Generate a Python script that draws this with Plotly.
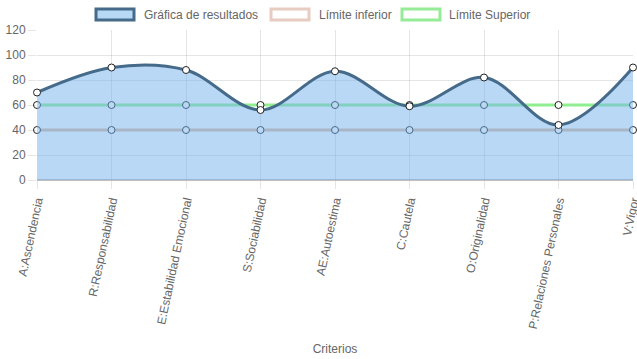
import plotly.graph_objects as go

categories = ["A:Ascendencia", "R:Responsabilidad", "E:Estabilidad Emocional",
              "S:Sociabilidad", "AE:Autoestima", "C:Cautela", "O:Originalidad",
              "P:Relaciones Personales", "V:Vigor"]
resultados = [70, 90, 88, 56, 87, 59, 82, 44, 90]
limite_inferior = [40, 40, 40, 40, 40, 40, 40, 40, 40]
limite_superior = [60, 60, 60, 60, 60, 60, 60, 60, 60]
legend_labels = ["Gráfica de resultados", "Límite inferior", "Límite Superior"]
y_ticks = [0, 20, 40, 60, 80, 100, 120]

W, H = 637, 359
ML, MR, MT, MB = 37, 4, 30, 179
FONT = "Liberation Sans, Arial, Helvetica, sans-serif"
GRAY = "#666666"

RES_LINE = "#456a8a"
RES_FILL = "rgba(116,178,238,0.5)"
INF_COL = "rgb(220,186,160)"
SUP_COL = "rgb(144,238,144)"

fig = go.Figure()

marker_style = dict(size=7, color="white", line=dict(color="#222222", width=1))

fig.add_trace(go.Scatter(x=categories, y=limite_inferior, mode="lines+markers",
                         line=dict(color=INF_COL, width=3), marker=marker_style,
                         cliponaxis=False, showlegend=False, hoverinfo="skip"))
fig.add_trace(go.Scatter(x=categories, y=limite_superior, mode="lines+markers",
                         line=dict(color=SUP_COL, width=3), marker=marker_style,
                         cliponaxis=False, showlegend=False, hoverinfo="skip"))
fig.add_trace(go.Scatter(x=categories, y=resultados, mode="lines+markers",
                         line=dict(color=RES_LINE, width=3, shape="spline", smoothing=1.0),
                         fill="tozeroy", fillcolor=RES_FILL, marker=marker_style,
                         cliponaxis=False, showlegend=False, hoverinfo="skip"))

plot_w = W - ML - MR
plot_h = H - MT - MB


def px_x(px):
    return (px - ML) / plot_w


def px_y(py):
    return (H - MB - py) / plot_h


legend_items = [
    (95, 142, "rgb(184,217,246)", RES_LINE),
    (270, 317, "rgba(255,255,255,1)", "rgb(232,204,194)"),
    (401, 447, "rgba(255,255,255,1)", "rgb(150,235,150)"),
]
shapes = []
annotations = []
for (bx, tx, fillc, linec), label in zip(legend_items, legend_labels):
    shapes.append(dict(type="rect", xref="paper", yref="paper",
                       x0=px_x(bx + 1), x1=px_x(bx + 39), y0=px_y(20), y1=px_y(9),
                       fillcolor=fillc, line=dict(color=linec, width=3), layer="above"))
    annotations.append(dict(xref="paper", yref="paper", x=px_x(tx), y=px_y(15),
                            xanchor="left", yanchor="middle", text=label, showarrow=False,
                            font=dict(family=FONT, size=12, color=GRAY)))

fig.update_layout(
    width=W, height=H,
    margin=dict(l=ML, r=MR, t=MT, b=MB, autoexpand=False),
    paper_bgcolor="white", plot_bgcolor="white",
    font=dict(family=FONT, size=12, color=GRAY),
    shapes=shapes, annotations=annotations,
    showlegend=False,
    xaxis=dict(
        type="category", range=[0, len(categories) - 1],
        showgrid=True, gridcolor="rgba(0,0,0,0.1)", gridwidth=1,
        ticks="outside", ticklen=8, tickcolor="rgba(0,0,0,0.1)",
        tickangle=-78, tickfont=dict(family=FONT, size=12, color=GRAY),
        title=dict(text="Criterios", font=dict(family=FONT, size=12, color=GRAY)),
        automargin=False, zeroline=False, showline=False,
    ),
    yaxis=dict(
        range=[0, 120], tickvals=y_ticks,
        showgrid=True, gridcolor="rgba(0,0,0,0.1)", gridwidth=1,
        ticks="outside", ticklen=8, tickcolor="rgba(0,0,0,0.1)",
        tickfont=dict(family=FONT, size=12, color=GRAY),
        zeroline=True, zerolinecolor="rgba(0,0,0,0.25)", zerolinewidth=2,
        automargin=False, showline=False,
    ),
)

fig.write_html("out.html", config={"displayModeBar": False},
               post_script="document.body.style.margin='0';document.body.style.padding='0';")
